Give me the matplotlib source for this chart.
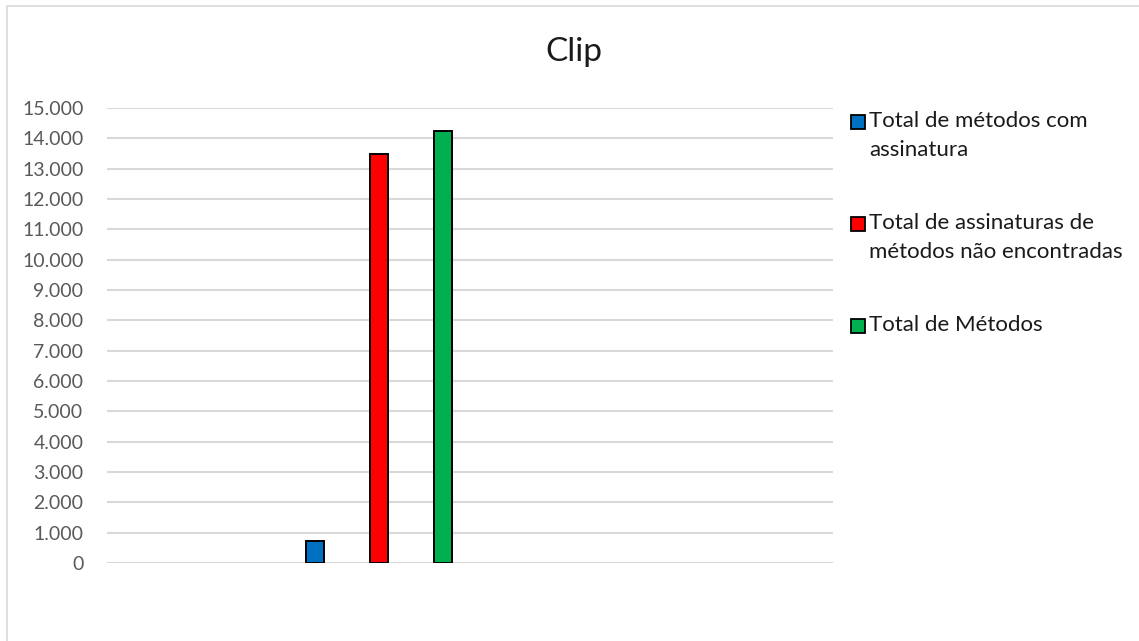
import matplotlib.pyplot as plt
from matplotlib.patches import Rectangle
from matplotlib.ticker import FuncFormatter

plt.rcParams['font.family'] = ['Lato', 'DejaVu Sans']

series = ['Total de métodos com\nassinatura',
          'Total de assinaturas de\nmétodos não encontradas',
          'Total de Métodos']
values = [735, 13500, 14240]
colors = ['#0070c0', '#ff0000', '#00b050']
yticks = list(range(0, 15001, 1000))

W, H = 1139, 641
fig = plt.figure(figsize=(W / 100, H / 100), dpi=100)
ax = fig.add_axes([107 / W, 1 - 563 / H, 726 / W, 455 / H])

# one bar per series, side by side
pos = [0, 1, 2]
ax.bar(pos, values, width=0.277, color=colors, edgecolor='black',
       linewidth=1.4, zorder=3)

ax.set_xlim(-3.25, 8.09)
ax.set_ylim(0, 15000)
ax.set_yticks(yticks)
ax.yaxis.set_major_formatter(
    FuncFormatter(lambda v, p: f'{int(v):,}'.replace(',', '.')))
ax.set_xticks([])
ax.tick_params(axis='y', length=0, pad=17, labelsize=14, labelcolor='#595959')
ax.grid(axis='y', color='#d9d9d9', linewidth=1.5, zorder=0)
for s in ax.spines.values():
    s.set_visible(False)

fig.text(574 / W, 1 - 52 / H, 'Clip', ha='center', va='center',
         fontsize=24, color='#1a1a1a')

# legend on the right
ys = [122, 224, 326]
for lab, c, y in zip(series, colors, ys):
    fig.add_artist(Rectangle((851 / W, 1 - (y + 7) / H), 14 / W, 14 / H,
                             transform=fig.transFigure, facecolor=c,
                             edgecolor='black', linewidth=1.3))
    fig.text(869 / W, 1 - (y - 11) / H, lab, ha='left', va='top',
             fontsize=16, color='#1a1a1a', linespacing=1.58)

# chart frame
fig.add_artist(Rectangle((7 / W, -0.1), 1.2, 1 - 6 / H + 0.1,
                         transform=fig.transFigure, facecolor='none',
                         edgecolor='#d9d9d9', linewidth=1.2))

fig.savefig('out.png', dpi=100)
